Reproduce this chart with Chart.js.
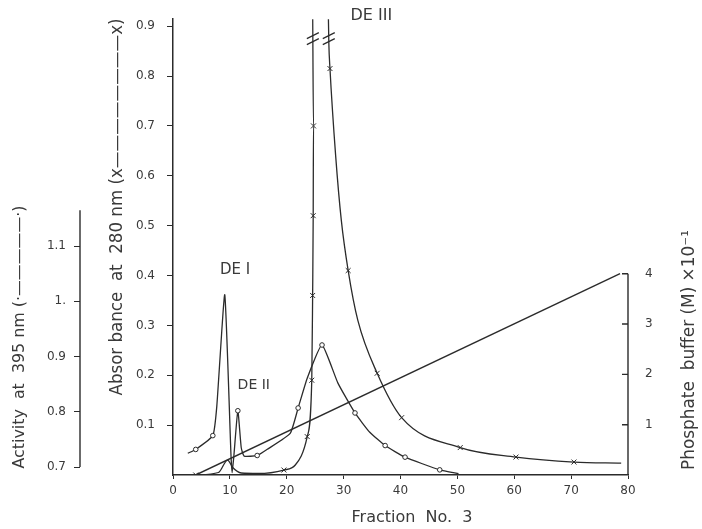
<!DOCTYPE html>
<html>
<head>
<meta charset="utf-8">
<title>DE elution profile</title>
<script src="https://cdn.jsdelivr.net/npm/chart.js"></script>
<style>
  html, body { margin: 0; padding: 0; background: #fff; }
  #wrap { width: 702px; height: 529px; position: relative; }
</style>
</head>
<body>
<div id="wrap"><canvas id="myChart"></canvas></div>
<script>
// values
const actFraction = [2.6, 4.0, 7.0, 7.7, 9.1, 10.2, 10.4, 10.7, 11.4, 12.0, 12.5, 14.8, 16.7, 20.6, 22.0, 23.6, 26.2, 29.0, 32.0, 34.6, 37.3, 40.8, 46.9, 50.2];
const actValues   = [0.725, 0.732, 0.757, 0.81, 1.012, 0.72, 0.69, 0.72, 0.802, 0.735, 0.72, 0.721, 0.733, 0.761, 0.807, 0.861, 0.921, 0.852, 0.798, 0.763, 0.739, 0.718, 0.695, 0.688];

const absFraction = [4, 8, 9.6, 10.5, 12, 15, 19.5, 21.5, 23.6, 24.4, 24.55, 24.65, 24.7, 24.5, 26, 27.2, 27.4, 27.6, 28.6, 29.6, 30.8, 32.5, 35.9, 40.2, 50.5, 60.3, 70.5, 78.8];
const absValues   = [0, 0.005, 0.03, 0.015, 0.004, 0.003, 0.01, 0.02, 0.077, 0.19, 0.36, 0.52, 0.70, 1.0, 1.6, 1.0, 0.866, 0.815, 0.64, 0.51, 0.41, 0.31, 0.204, 0.115, 0.055, 0.036, 0.026, 0.024];

const phFraction = [4, 78.6];
const phValues   = [0, 4];

const xTicks = [0, 10, 20, 30, 40, 50, 60, 70, 80];
const absTicks = [0.1, 0.2, 0.3, 0.4, 0.5, 0.6, 0.7, 0.8, 0.9];
const absTickLabels = ['0.1', '0.2', '0.3', '0.4', '0.5', '0.6', '0.7', '0.8', '0.9'];
const actTicks = [0.7, 0.8, 0.9, 1.0, 1.1];
const actTickLabels = ['0.7', '0.8', '0.9', '1.', '1.1'];
const phTicks = [1, 2, 3, 4];

// which readings carry a marker
const actMarked = [1, 2, 8, 11, 14, 16, 18, 20, 21, 22];
const absMarked = [0, 6, 8, 9, 10, 11, 12, 17, 20, 22, 23, 24, 25, 26];

const ink = '#2b2b2b';
const textCol = '#3a3a3a';
const fontFam = "'DejaVu Sans', sans-serif";

function toPoints(xs, ys) {
  return xs.map((x, i) => ({ x: x, y: ys[i] }));
}

// vertical text, stretched a little so it covers the same length as in the scan
function vTitle(ctx, prefix, open, close, cx, cy, len) {
  const dash = ctx.measureText('—').width;
  const base = ctx.measureText(prefix + open + close).width;
  const n = Math.max(1, Math.round((len - base) / dash));
  const text = prefix + open + '—'.repeat(n) + close;
  const w = ctx.measureText(text).width;
  ctx.save();
  ctx.translate(cx, cy);
  ctx.rotate(-Math.PI / 2);
  ctx.scale(len / w, 1);
  ctx.textAlign = 'center';
  ctx.textBaseline = 'middle';
  ctx.fillText(text, 0, 0);
  ctx.restore();
}

function vText(ctx, text, cx, cy, len) {
  const w = ctx.measureText(text).width;
  ctx.save();
  ctx.translate(cx, cy);
  ctx.rotate(-Math.PI / 2);
  ctx.scale(len / w, 1);
  ctx.textAlign = 'center';
  ctx.textBaseline = 'middle';
  ctx.fillText(text, 0, 0);
  ctx.restore();
}

// partial axis lines, break marks and all the labels
const decorations = {
  id: 'decorations',
  afterDraw(chart) {
    const ctx = chart.ctx;
    const s = chart.scales;
    ctx.save();
    ctx.strokeStyle = ink;
    ctx.lineWidth = 1.4;

    // activity axis (0.7 .. ~1.16)
    const ax = s.yAct.right;
    ctx.beginPath();
    ctx.moveTo(ax, s.yAct.getPixelForValue(0.7));
    ctx.lineTo(ax, s.yAct.getPixelForValue(1.165));
    ctx.stroke();

    // phosphate axis (0 .. 4) with inward ticks
    const px = s.yPh.left;
    ctx.beginPath();
    ctx.moveTo(px, s.yPh.getPixelForValue(0));
    ctx.lineTo(px, s.yPh.getPixelForValue(4));
    phTicks.forEach(v => {
      const y = s.yPh.getPixelForValue(v);
      ctx.moveTo(px - 6, y);
      ctx.lineTo(px, y);
    });
    ctx.stroke();

    // break marks on DE III
    ctx.lineWidth = 1.2;
    [24.59, 27.39].forEach(f => {
      const x = s.x.getPixelForValue(f);
      const y = s.yAbs.getPixelForValue(0.875);
      [-3, 3].forEach(dy => {
        ctx.beginPath();
        ctx.moveTo(x - 6, y + dy + 3);
        ctx.lineTo(x + 6, y + dy - 3);
        ctx.stroke();
      });
    });

    // titles
    ctx.fillStyle = textCol;
    ctx.font = '16px ' + fontFam;
    vTitle(ctx, 'Activity  at  395 nm ', '(·', '·)', 20, 337, 263);
    ctx.font = '17px ' + fontFam;
    vTitle(ctx, 'Absor bance  at  280 nm ', '(x', 'x)', 118, 207, 377);
    ctx.font = '17px ' + fontFam;
    vText(ctx, 'Phosphate  buffer (M) ×10⁻¹', 690, 350, 240);
    ctx.font = '16px ' + fontFam;
    ctx.textAlign = 'center';
    ctx.textBaseline = 'middle';
    ctx.fillText('Fraction  No.  3', 412, 518);

    // peak names
    ctx.font = '15px ' + fontFam;
    ctx.fillText('DE I', s.x.getPixelForValue(10.9), s.yAbs.getPixelForValue(0.41));
    ctx.font = '14px ' + fontFam;
    ctx.fillText('DE II', s.x.getPixelForValue(14.2), s.yAbs.getPixelForValue(0.18));
    ctx.font = '16px ' + fontFam;
    ctx.textAlign = 'left';
    ctx.fillText('DE III', s.x.getPixelForValue(31.2), 16);
    ctx.restore();
  }
};

const tickFont = { family: fontFam, size: 12 };

const ctx = document.getElementById('myChart').getContext('2d');
const myChart = new Chart(ctx, {
  type: 'line',
  data: {
    datasets: [
      {
        label: 'Activity at 395 nm',
        data: toPoints(actFraction, actValues),
        yAxisID: 'yAct',
        borderColor: ink,
        borderWidth: 1.3,
        tension: 0.15,
        pointStyle: 'circle',
        pointRadius: c => actMarked.includes(c.dataIndex) ? 2.3 : 0,
        pointBackgroundColor: '#fff',
        pointBorderColor: ink,
        pointBorderWidth: 1
      },
      {
        label: 'Absorbance at 280 nm',
        data: toPoints(absFraction, absValues),
        yAxisID: 'yAbs',
        borderColor: ink,
        borderWidth: 1.3,
        cubicInterpolationMode: 'monotone',
        pointStyle: 'crossRot',
        pointRadius: c => absMarked.includes(c.dataIndex) ? 3.5 : 0,
        pointBorderColor: ink,
        pointBorderWidth: 1
      },
      {
        label: 'Phosphate buffer',
        data: toPoints(phFraction, phValues),
        yAxisID: 'yPh',
        borderColor: ink,
        borderWidth: 1.4,
        pointRadius: 0
      }
    ]
  },
  options: {
    responsive: true,
    maintainAspectRatio: false,
    animation: false,
    layout: { padding: { top: 13, left: 0, right: 0, bottom: 0 } },
    plugins: {
      legend: { display: false },
      tooltip: { enabled: false }
    },
    scales: {
      x: {
        type: 'linear',
        position: 'bottom',
        min: 0,
        max: 80,
        afterBuildTicks: sc => { sc.ticks = xTicks.map(v => ({ value: v })); },
        afterFit: sc => { sc.height = 54; },
        ticks: { font: tickFont, color: textCol, padding: 5, maxRotation: 0 },
        grid: { drawOnChartArea: false, tickLength: 4, color: ink },
        border: { color: ink, width: 1.5 }
      },
      yAbs: {
        type: 'linear',
        position: 'left',
        weight: 0,
        min: 0,
        max: 0.914,
        afterBuildTicks: sc => { sc.ticks = absTicks.map(v => ({ value: v })); },
        afterFit: sc => { sc.width = 93; },
        ticks: {
          font: tickFont, color: textCol, padding: 12,
          callback: v => absTickLabels[absTicks.indexOf(v)]
        },
        grid: { drawOnChartArea: false, tickLength: 6, color: ink },
        border: { color: ink, width: 1.5 }
      },
      yAct: {
        type: 'linear',
        position: 'left',
        weight: 1,
        min: 0.6857,
        max: 1.5107,
        afterBuildTicks: sc => { sc.ticks = actTicks.map(v => ({ value: v })); },
        afterFit: sc => { sc.width = 80; },
        ticks: {
          font: tickFont, color: textCol, padding: 8,
          callback: v => actTickLabels[actTicks.indexOf(v)]
        },
        grid: { drawOnChartArea: false, tickLength: 6, color: ink },
        border: { display: false }
      },
      yPh: {
        type: 'linear',
        position: 'right',
        min: 0,
        max: 9.059,
        afterBuildTicks: sc => { sc.ticks = phTicks.map(v => ({ value: v })); },
        afterFit: sc => { sc.width = 74; },
        ticks: { font: tickFont, color: textCol, padding: 9 },
        grid: { display: false },
        border: { display: false }
      }
    }
  },
  plugins: [decorations]
});
</script>
</body>
</html>
